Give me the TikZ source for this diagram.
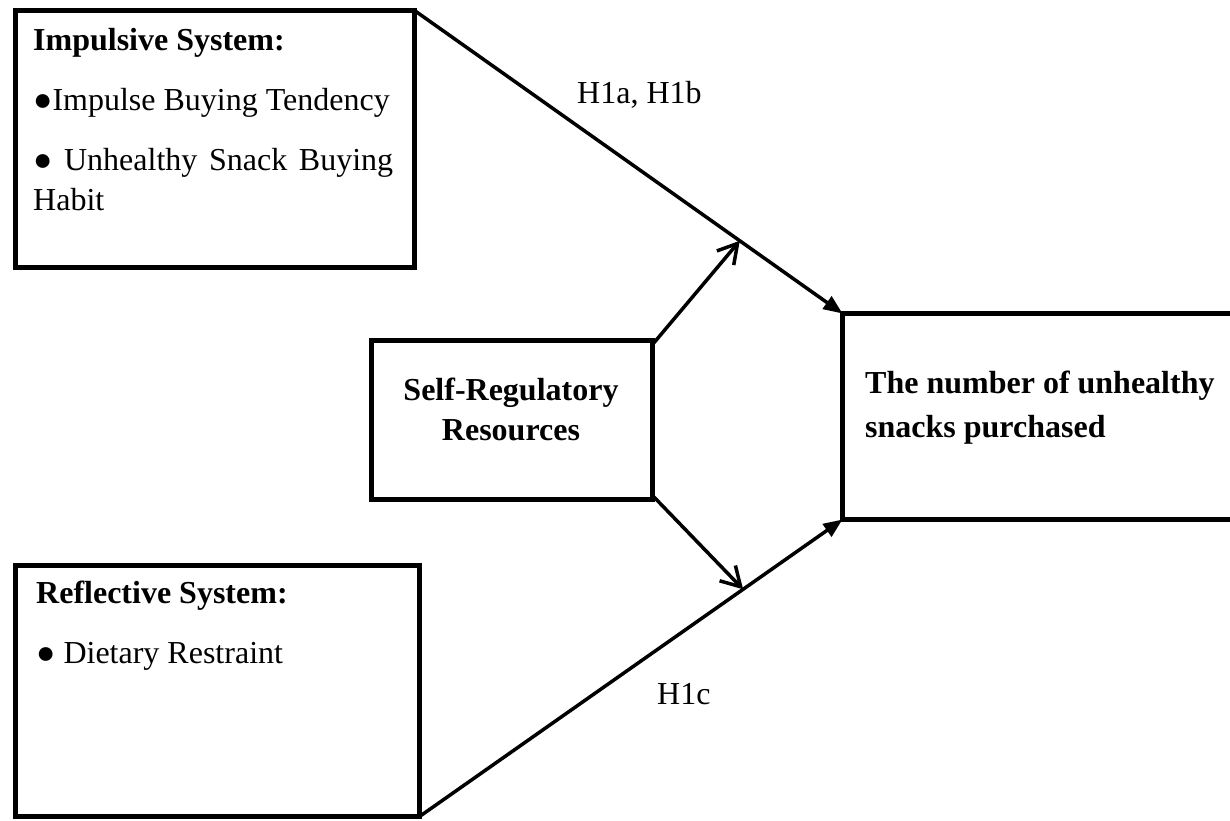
\documentclass[tikz,border=0pt]{standalone}
\usepackage{fontspec}
\setmainfont{Liberation Serif}
\usetikzlibrary{arrows.meta,calc}
\begin{document}
\begin{tikzpicture}[x=1pt,y=-1pt,
  box/.style={draw,line width=5pt,inner sep=0pt,outer sep=0pt},
  txt/.style={anchor=base west,inner sep=0pt,font=\fontsize{32}{40}\selectfont},
  btxt/.style={anchor=base west,inner sep=0pt,font=\fontsize{32}{40}\selectfont\bfseries},
  ctxt/.style={anchor=base,inner sep=0pt,font=\fontsize{32}{40}\selectfont\bfseries},
  conn/.style={line width=3.5pt},
  maintip/.style={-{Triangle[length=19pt,width=15pt]}},
  modtip/.style={-{Straight Barb[length=19pt,width=22pt]}}]
\useasboundingbox (0,0) rectangle (1230,820);
% boxes
\node[box,minimum width=399pt,minimum height=257pt] (imp) at (215,139) {};
\node[box,minimum width=404pt,minimum height=251pt] (ref) at (217.5,691) {};
\node[box,minimum width=281pt,minimum height=159pt] (sr) at (512,420) {};
\node[box,minimum width=405pt,minimum height=206pt] (out) at (1045,416.5) {};
% texts
\node[btxt] (impt) at (33,50) {Impulsive System:};
\node[txt] (imp1) at (33,110) {●Impulse Buying Tendency};
\node[txt] (imp2) at (33,170) {\makebox[360pt][s]{● Unhealthy Snack Buying}};
\node[txt] (imp3) at (33,210) {Habit};
\node[btxt] (reft) at (36,603) {Reflective System:};
\node[txt] (ref1) at (36,663) {● Dietary Restraint};
\node[ctxt] (sr1) at (511,400) {Self-Regulatory};
\node[ctxt] (sr2) at (511,440) {Resources};
\node[btxt] (out1) at (865,393) {The number of unhealthy};
\node[btxt] (out2) at (865,437) {snacks purchased};
\node[txt] (h1ab) at (577,103) {H1a, H1b};
\node[txt] (h1c) at (657,704) {H1c};
% connectors
\draw[conn,maintip] (imp.north east) -- (out.north west);
\draw[conn,maintip] (ref.south east) -- (out.south west);
\coordinate (m1) at ($(imp.north east)!0.76!(out.north west)$);
\coordinate (m2) at ($(ref.south east)!0.765!(out.south west)$);
\draw[conn,modtip] ([yshift=-4pt]sr.north east) -- (m1);
\draw[conn,modtip] ([yshift=4pt]sr.south east) -- (m2);
\end{tikzpicture}
\end{document}
